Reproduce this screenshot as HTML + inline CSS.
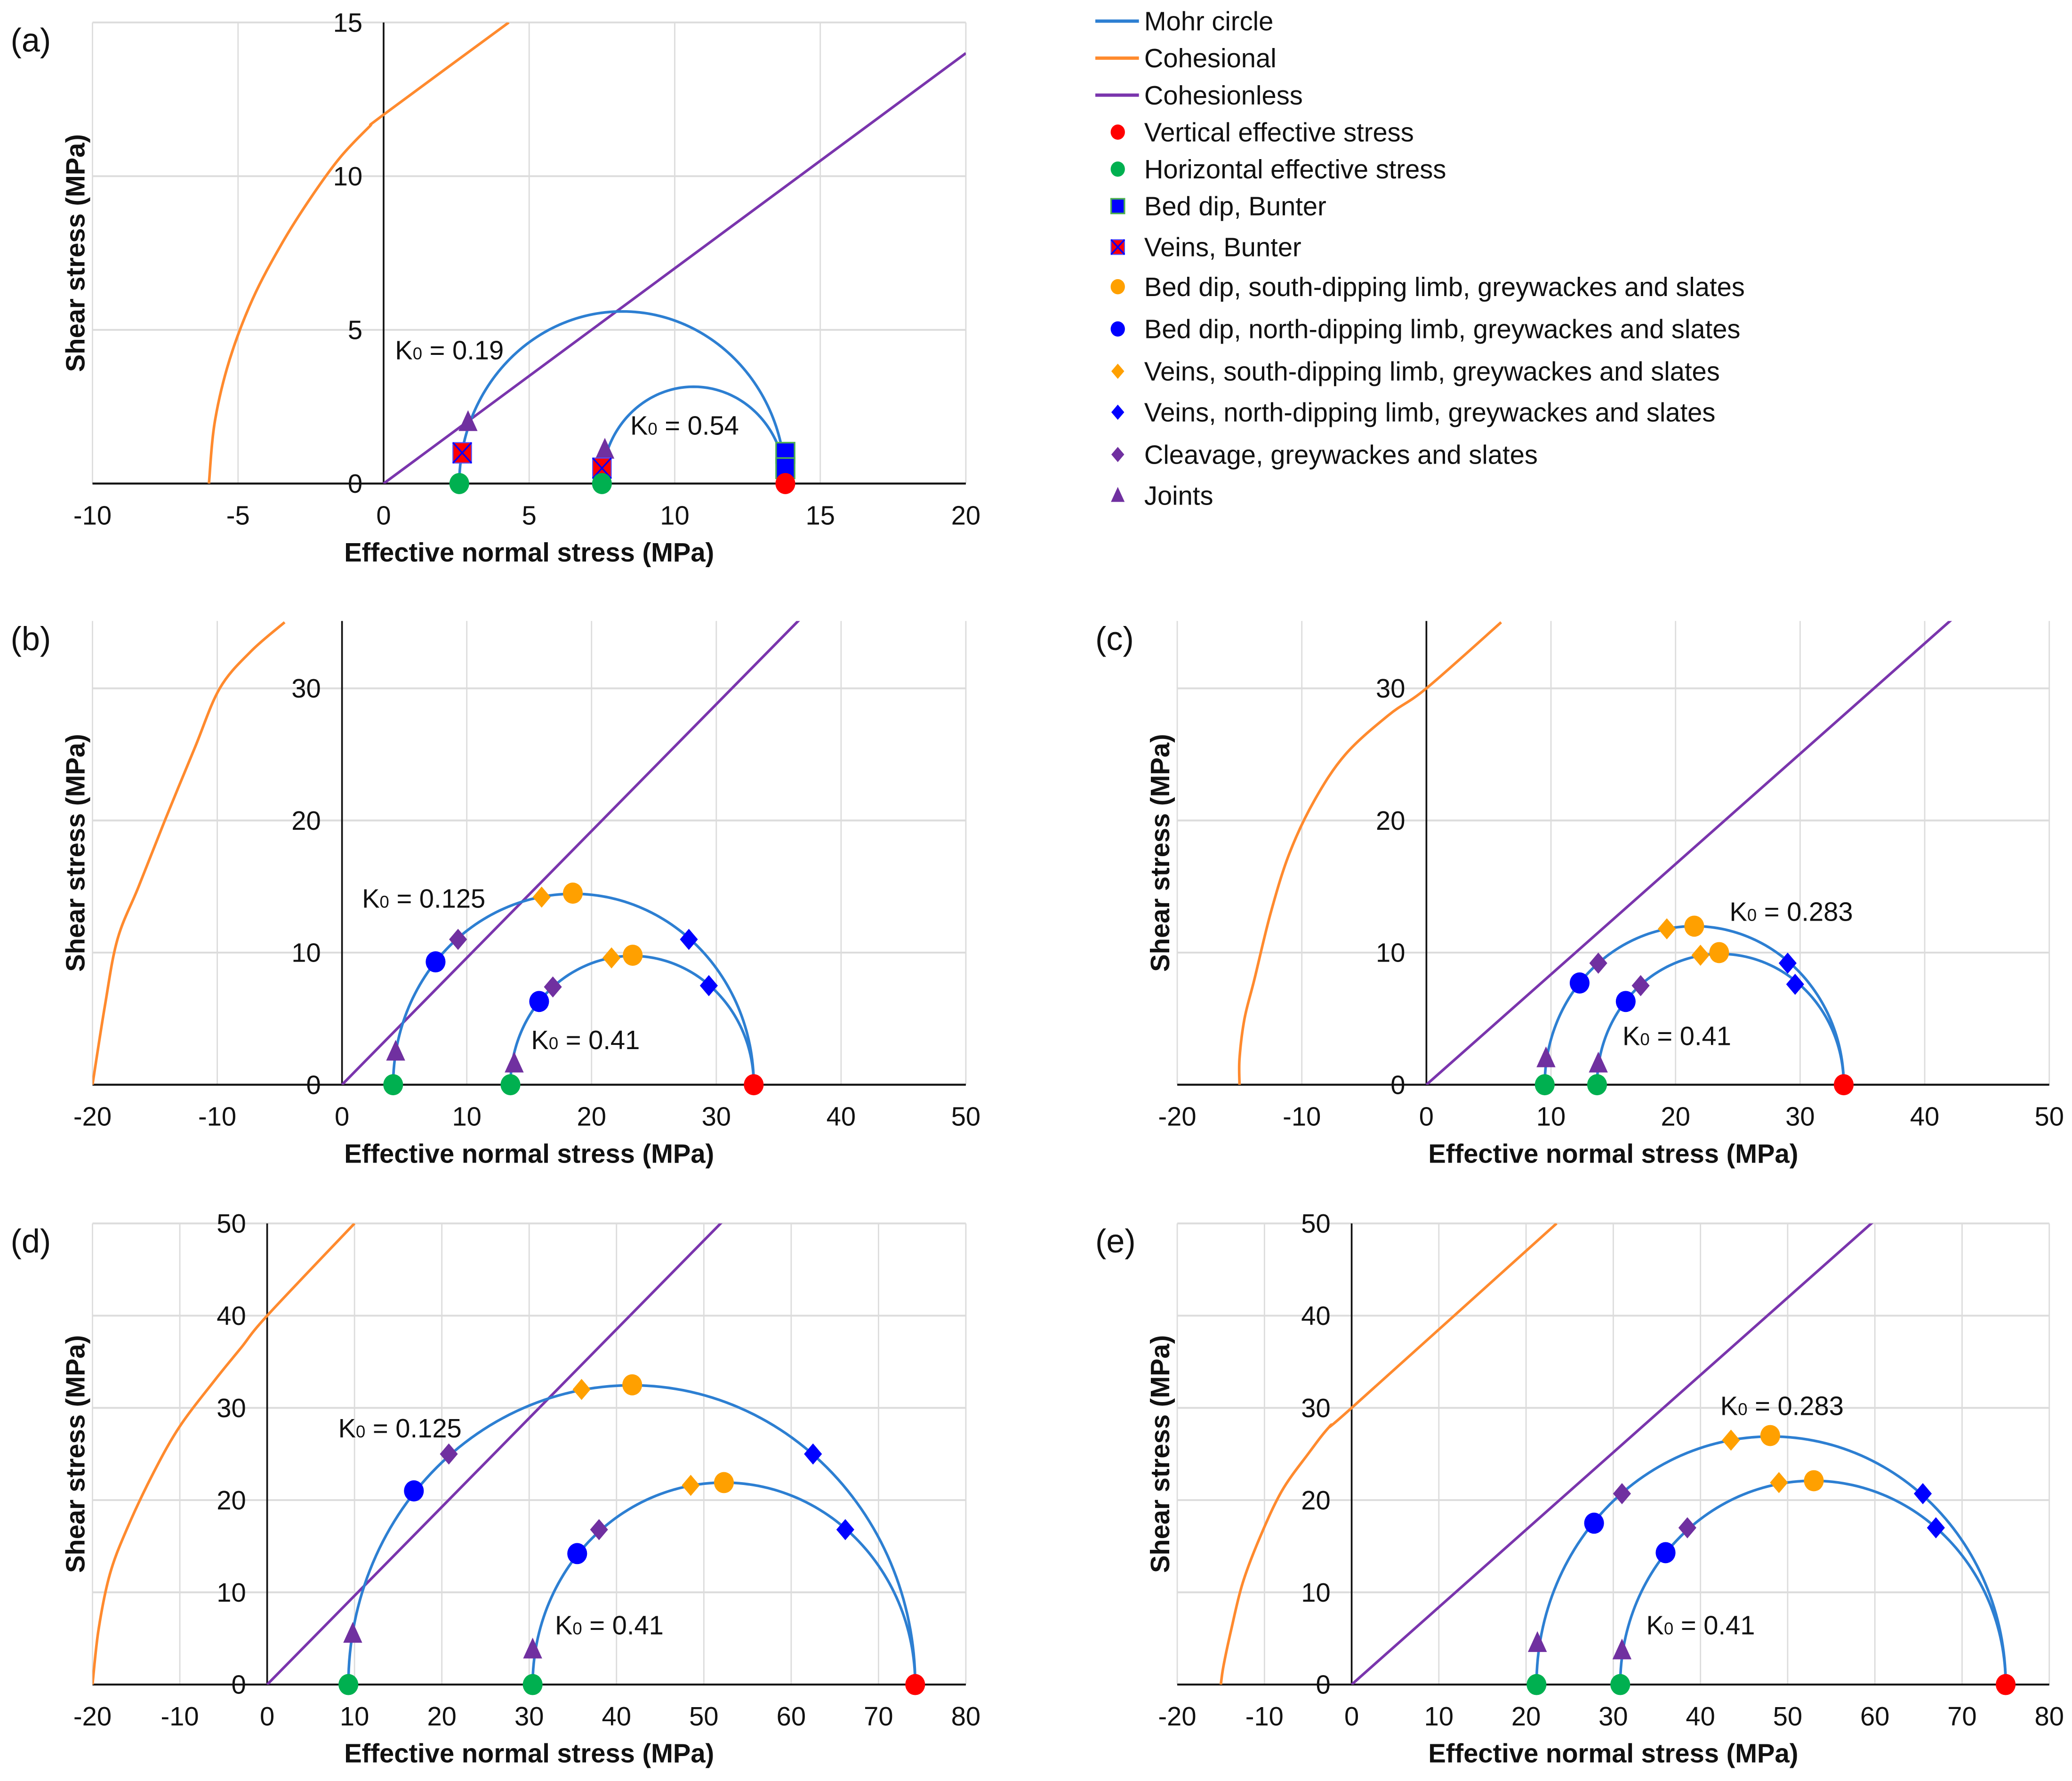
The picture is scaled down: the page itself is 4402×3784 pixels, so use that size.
<!DOCTYPE html>
<html><head><meta charset="utf-8"><style>
html,body{margin:0;padding:0;background:#fff;}
svg{display:block;}
text{font-family:"Liberation Sans",Arial,sans-serif;fill:#111;}
</style></head><body>
<svg id="fig" width="4402" height="3784" viewBox="0 0 1568.2 1348" preserveAspectRatio="none" xmlns="http://www.w3.org/2000/svg"></svg>
<script>
// ---- data ----
const sigma1A = 13.8; const sigma3A = [2.6, 7.5]; const k0LabelsA = ["0.19", "0.54"];
const sigma1B = 33; const sigma3B = [4.1, 13.5]; const k0LabelsB = ["0.125", "0.41"];
const sigma1C = 33.5; const sigma3C = [9.5, 13.7]; const k0LabelsC = ["0.283", "0.41"];
const sigma1D = 74.2; const sigma3D = [9.3, 30.4]; const k0LabelsD = ["0.125", "0.41"];
const sigma1E = 75; const sigma3E = [21.2, 30.8]; const k0LabelsE = ["0.283", "0.41"];

const cohesionalA = [[-6,0],[-5.8,2],[-5.3,4],[-4.5,6],[-3.5,7.8],[-2.5,9.3],[-1.5,10.6],[-0.5,11.6],[0,12],[4.3,15]];
const cohesionalB = [[-20,0],[-19,6],[-18,11],[-16.3,15],[-14.2,20],[-11.8,25.5],[-9.8,30],[-7.3,32.8],[-4.6,35]];
const cohesionalC = [[-15,0],[-15,2],[-14.6,5],[-13.8,8],[-12.5,13],[-11,17.5],[-9,21.5],[-6.5,25],[-3,28],[0,30],[6,35]];
const cohesionalD = [[-20,0],[-19.3,6],[-18,12],[-16,17],[-13,23],[-10,28],[-6,33],[-3,36.5],[0,40],[10,50]];
const cohesionalE = [[-15,0],[-14.7,2],[-13.8,6],[-12.5,11],[-10.5,16],[-8,21],[-5,25],[-2.5,28],[0,30],[23.5,50]];
const frictionSlope = {a:0.7, b:0.96, c:0.835, d:0.963, e:0.839};

// markers: [type, x, y]
const markersA = [["tri",2.9,2],["tri",7.6,1.1],["veinB",2.7,1],["veinB",7.5,0.5],["bedB",13.8,1],["bedB",13.8,0.5],["green",2.6,0],["green",7.5,0],["red",13.8,0]];
const markersB = [["tri",4.3,2.5],["blueC",7.5,9.3],["purD",9.3,11],["oraD",16,14.2],["oraC",18.5,14.5],["blueD",27.8,11],
 ["tri",13.8,1.6],["blueC",15.8,6.3],["purD",16.9,7.4],["oraD",21.6,9.6],["oraC",23.3,9.8],["blueD",29.4,7.5],["green",4.1,0],["green",13.5,0],["red",33,0]];
const markersC = [["tri",9.6,2],["blueC",12.3,7.7],["purD",13.8,9.2],["oraD",19.3,11.8],["oraC",21.5,12],["blueD",29,9.2],
 ["tri",13.8,1.6],["blueC",16,6.3],["purD",17.2,7.5],["oraD",22,9.8],["oraC",23.5,10],["blueD",29.6,7.6],["green",9.5,0],["green",13.7,0],["red",33.5,0]];
const markersD = [["tri",9.8,5.5],["blueC",16.8,21],["purD",20.8,25],["oraD",36,32],["oraC",41.8,32.5],["blueD",62.5,25],
 ["tri",30.4,3.8],["blueC",35.5,14.2],["purD",38,16.8],["oraD",48.5,21.6],["oraC",52.3,21.9],["blueD",66.2,16.8],["green",9.3,0],["green",30.4,0],["red",74.2,0]];
const markersE = [["tri",21.3,4.5],["blueC",27.8,17.5],["purD",31,20.7],["oraD",43.5,26.5],["oraC",48,27],["blueD",65.5,20.7],
 ["tri",31,3.7],["blueC",36,14.3],["purD",38.5,17],["oraD",49,21.9],["oraC",53,22.1],["blueD",67,17],["green",21.2,0],["green",30.8,0],["red",75,0]];

const xTicksA = [-10,-5,0,5,10,15,20]; const yTicksA = [0,5,10,15];
const xTicksB = [-20,-10,0,10,20,30,40,50]; const yTicksB = [0,10,20,30];
const xTicksD = [-20,-10,0,10,20,30,40,50,60,70,80]; const yTicksD = [0,10,20,30,40,50];

const legendLabels = ["Mohr circle","Cohesional","Cohesionless","Vertical effective stress","Horizontal effective stress","Bed dip, Bunter","Veins, Bunter","Bed dip, south-dipping limb, greywackes and slates","Bed dip, north-dipping limb, greywackes and slates","Veins, south-dipping limb, greywackes and slates","Veins, north-dipping limb, greywackes and slates","Cleavage, greywackes and slates","Joints"];
const legendTypes = ["lineM","lineO","lineP","red","green","bedB","veinB","oraC","blueC","oraD","blueD","purD","tri"];

// ---- drawing ----
const NS="http://www.w3.org/2000/svg";
const svg=document.getElementById('fig');
const C={mohr:"#2d7fd2",orange:"#ff8a2e",purple:"#7a35ad",red:"#ff0000",green:"#00b050",blue:"#0000ff",ora:"#ffa000",pur:"#7030a0"};
const FS=20;
function el(tag,attrs,parent){const e=document.createElementNS(NS,tag);for(const k in attrs)e.setAttribute(k,attrs[k]);(parent||svg).appendChild(e);return e;}

function smoothPath(P){
  let d="M"+P[0][0].toFixed(2)+" "+P[0][1].toFixed(2);
  for(let i=0;i<P.length-1;i++){
    const p0=P[i-1]||P[i],p1=P[i],p2=P[i+1],p3=P[i+2]||P[i+1];
    const c1=[p1[0]+(p2[0]-p0[0])/6,p1[1]+(p2[1]-p0[1])/6];
    const c2=[p2[0]-(p3[0]-p1[0])/6,p2[1]-(p3[1]-p1[1])/6];
    d+=`C${c1[0].toFixed(2)} ${c1[1].toFixed(2)} ${c2[0].toFixed(2)} ${c2[1].toFixed(2)} ${p2[0].toFixed(2)} ${p2[1].toFixed(2)}`;
  }
  return d;
}

function marker(g,type,px,py,s){
  let e;
  if(type==="red"||type==="green"||type==="blueC"||type==="oraC"){
    const col={red:C.red,green:C.green,blueC:C.blue,oraC:C.ora}[type];
    e=el('ellipse',{cx:px,cy:py,rx:7.5*s,ry:8*s,fill:col},g);
  } else if(type==="oraD"||type==="blueD"||type==="purD"){
    const col={oraD:C.ora,blueD:C.blue,purD:C.pur}[type];const r=8*s;
    e=el('polygon',{points:`${px},${py-r} ${px+r*0.85},${py} ${px},${py+r} ${px-r*0.85},${py}`,fill:col},g);
  } else if(type==="tri"){
    const r=9*s;
    e=el('polygon',{points:`${px},${py-r} ${px+r*0.8},${py+r*0.75} ${px-r*0.8},${py+r*0.75}`,fill:C.pur},g);
  } else if(type==="bedB"){
    const r=7*s;
    e=el('rect',{x:px-r,y:py-r*1.1,width:2*r,height:2.2*r,fill:C.blue,stroke:"#4caf50","stroke-width":1.2},g);
  } else if(type==="veinB"){
    const r=7*s;
    e=el('g',{},g);
    el('rect',{x:px-r,y:py-r*1.1,width:2*r,height:2.2*r,fill:C.red,stroke:"#5050ff","stroke-width":0.8},e);
    el('path',{d:`M${px-r} ${py-r*1.1}L${px+r} ${py+r*1.1}M${px+r} ${py-r*1.1}L${px-r} ${py+r*1.1}`,stroke:C.blue,"stroke-width":1.2},e);
  }
  
  
}

function panel(cfg){
  const g=el('g',{});
  
  
  const sx=v=>cfg.px0+(v-cfg.xmin)/(cfg.xmax-cfg.xmin)*(cfg.px1-cfg.px0);
  const sy=v=>cfg.py0-v/cfg.ymax*(cfg.py0-cfg.pyMax);
  cfg.xt.forEach(v=>{const l=el('line',{x1:sx(v),x2:sx(v),y1:cfg.top,y2:cfg.py0,stroke:"#dcdcdc","stroke-width":1},g);
    });
  cfg.yt.forEach(v=>{if(v===0)return;const l=el('line',{x1:cfg.px0,x2:cfg.px1,y1:sy(v),y2:sy(v),stroke:"#dcdcdc","stroke-width":1.4},g);
    });
  const ya=el('line',{x1:sx(0),x2:sx(0),y1:cfg.top,y2:cfg.py0,stroke:"#111","stroke-width":1.3},g);
  
  const xa=el('line',{x1:cfg.px0,x2:cfg.px1,y1:cfg.py0,y2:cfg.py0,stroke:"#111","stroke-width":1.5},g);
  
  cfg.xt.forEach(v=>{const t=el('text',{x:sx(v),y:cfg.py0+31,"text-anchor":"middle","font-size":FS},g);t.textContent=v;
    });
  cfg.yt.forEach(v=>{const t=el('text',{x:sx(0)-16,y:sy(v)+7,"text-anchor":"end","font-size":FS},g);t.textContent=v;
    });
  const xt=el('text',{x:(cfg.px0+cfg.px1)/2,y:cfg.py0+59,"text-anchor":"middle","font-size":FS,"font-weight":"bold"},g);
  xt.textContent="Effective normal stress (MPa)";
  const cy=(cfg.top+cfg.py0)/2;const tx=cfg.px0-6;
  const yt=el('text',{x:tx,y:cy,"text-anchor":"middle","font-size":FS,"font-weight":"bold",transform:`rotate(-90 ${tx} ${cy})`},g);
  yt.textContent="Shear stress (MPa)";
  const pl=el('text',{x:cfg.px0-62,y:cfg.top+22,"font-size":25},g);pl.textContent="("+cfg.id+")";
  
  const cp=el('clipPath',{id:'cp'+cfg.id},g);el('rect',{x:cfg.px0,y:cfg.top,width:cfg.px1-cfg.px0,height:cfg.py0-cfg.top},cp);
  const pg=el('g',{'clip-path':`url(#cp${cfg.id})`},g);
  const co=el('path',{d:smoothPath(cfg.coh.map(p=>[sx(p[0]),sy(p[1])])),fill:"none",stroke:C.orange,"stroke-width":2,"stroke-linejoin":"round"},pg);
  
  const xe=cfg.xmax;
  const pu=el('line',{x1:sx(0),y1:sy(0),x2:sx(xe),y2:sy(cfg.slope*xe),stroke:C.purple,"stroke-width":2},pg);
  
  cfg.s3.forEach((s3,i)=>{
    const c=(cfg.s1+s3)/2,r=(cfg.s1-s3)/2;let d="";
    for(let k=0;k<=120;k++){const a=Math.PI*k/120;const X=c-r*Math.cos(a),Y=r*Math.sin(a);d+=(k?"L":"M")+sx(X).toFixed(2)+" "+sy(Y).toFixed(2);}
    const m=el('path',{d:d,fill:"none",stroke:C.mohr,"stroke-width":2},pg);
    
    const lp=cfg.lab[i];
    const t=el('text',{x:lp[0],y:lp[1],"font-size":FS},g);
    t.innerHTML='K<tspan font-size="13">0</tspan> = '+cfg.k0[i];
    
  });
  cfg.mk.forEach(m=>marker(g,m[0],sx(m[1]),sy(m[2]),1));
}

panel({id:"a",px0:70,px1:731,xmin:-10,xmax:20,py0:366,pyMax:17,ymax:15,top:17,xt:xTicksA,yt:yTicksA,coh:cohesionalA,slope:frictionSlope.a,s1:sigma1A,s3:sigma3A,k0:k0LabelsA,lab:[[299,272],[477,329]],mk:markersA});
panel({id:"b",px0:70,px1:731,xmin:-20,xmax:50,py0:821,pyMax:521,ymax:30,top:470,xt:xTicksB,yt:yTicksB,coh:cohesionalB,slope:frictionSlope.b,s1:sigma1B,s3:sigma3B,k0:k0LabelsB,lab:[[274,687],[402,794]],mk:markersB});
panel({id:"c",px0:891,px1:1551,xmin:-20,xmax:50,py0:821,pyMax:521,ymax:30,top:470,xt:xTicksB,yt:yTicksB,coh:cohesionalC,slope:frictionSlope.c,s1:sigma1C,s3:sigma3C,k0:k0LabelsC,lab:[[1309,697],[1228,791]],mk:markersC});
panel({id:"d",px0:70,px1:731,xmin:-20,xmax:80,py0:1275,pyMax:926,ymax:50,top:926,xt:xTicksD,yt:yTicksD,coh:cohesionalD,slope:frictionSlope.d,s1:sigma1D,s3:sigma3D,k0:k0LabelsD,lab:[[256,1088],[420,1237]],mk:markersD});
panel({id:"e",px0:891,px1:1551,xmin:-20,xmax:80,py0:1275,pyMax:926,ymax:50,top:926,xt:xTicksD,yt:yTicksD,coh:cohesionalE,slope:frictionSlope.e,s1:sigma1E,s3:sigma3E,k0:k0LabelsE,lab:[[1302,1071],[1246,1237]],mk:markersE});

const lg=el('g',{});


const legendY=[16,44,72,100,128,156,187,217,249,281,312,344,375];
legendLabels.forEach((lab,i)=>{
  const y=legendY[i];const typ=legendTypes[i];
  const eg=el('g',{},lg);
  
  
  if(typ.startsWith('line')){
    const col={lineM:C.mohr,lineO:C.orange,lineP:C.purple}[typ];
    el('line',{x1:829,x2:862,y1:y,y2:y,stroke:col,"stroke-width":2.5},eg);
  } else {
    marker(eg,typ,846,y,0.72);
  }
  const t=el('text',{x:866,y:y+7,"font-size":FS},eg);t.textContent=lab;
});
</script>
</body></html>
